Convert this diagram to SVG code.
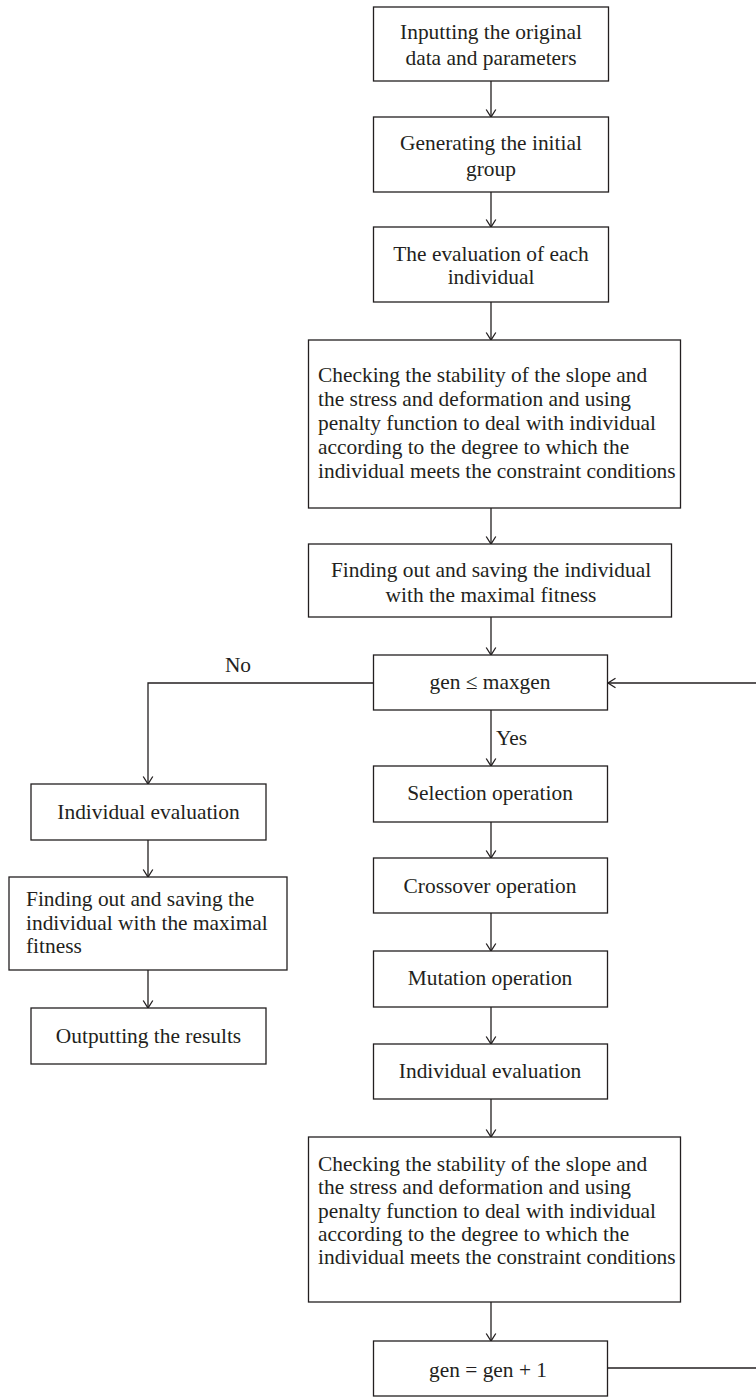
<svg xmlns="http://www.w3.org/2000/svg" width="756" height="1397" viewBox="0 0 756 1397">
<style>
.box{fill:#fff;stroke:#231f20;stroke-width:1.3}
.t{font-family:"Liberation Serif","Times New Roman",serif;font-size:21.4px;fill:#231f20}
.c{text-anchor:middle}
.ln{fill:none;stroke:#231f20;stroke-width:1.3}
</style>
<defs>
<marker id="arr" markerUnits="userSpaceOnUse" markerWidth="12" markerHeight="12" viewBox="-9 -6 11 12" refX="0" refY="0" orient="auto">
<path d="M-7.5,-4.8 L0,0 L-7.5,4.8" fill="none" stroke="#231f20" stroke-width="1.3"/>
</marker>
</defs>
<rect width="756" height="1397" fill="#fff"/>
<g id="connectors">
<line class="ln" x1="491" y1="81" x2="491" y2="117" marker-end="url(#arr)"/>
<line class="ln" x1="491" y1="192" x2="491" y2="227" marker-end="url(#arr)"/>
<line class="ln" x1="491" y1="302" x2="491" y2="340" marker-end="url(#arr)"/>
<line class="ln" x1="491" y1="508" x2="491" y2="544" marker-end="url(#arr)"/>
<line class="ln" x1="491" y1="617" x2="491" y2="655" marker-end="url(#arr)"/>
<line class="ln" x1="491" y1="710" x2="491" y2="766" marker-end="url(#arr)"/>
<line class="ln" x1="491" y1="822" x2="491" y2="858" marker-end="url(#arr)"/>
<line class="ln" x1="491" y1="913" x2="491" y2="951" marker-end="url(#arr)"/>
<line class="ln" x1="491" y1="1007" x2="491" y2="1044" marker-end="url(#arr)"/>
<line class="ln" x1="491" y1="1099" x2="491" y2="1137" marker-end="url(#arr)"/>
<line class="ln" x1="491" y1="1302" x2="491" y2="1341" marker-end="url(#arr)"/>
<polyline class="ln" points="373,683 148,683 148,784" marker-end="url(#arr)"/>
<line class="ln" x1="148" y1="840" x2="148" y2="877" marker-end="url(#arr)"/>
<line class="ln" x1="148" y1="970" x2="148" y2="1008" marker-end="url(#arr)"/>
<line class="ln" x1="756" y1="683" x2="608" y2="683" marker-end="url(#arr)"/>
<line class="ln" x1="607" y1="1368" x2="756" y2="1368"/>
<text class="t c" x="238" y="672">No</text>
<text class="t" x="496" y="745">Yes</text>
</g>
<g id="n1"><rect class="box" x="373.5" y="7" width="235" height="74"/>
<text class="t c" x="491" y="39">Inputting the original</text>
<text class="t c" x="491" y="65">data and parameters</text></g>
<g id="n2"><rect class="box" x="373.5" y="117" width="235" height="75"/>
<text class="t c" x="491" y="150">Generating the initial</text>
<text class="t c" x="491" y="176">group</text></g>
<g id="n3"><rect class="box" x="373.5" y="227" width="235" height="75"/>
<text class="t c" x="491" y="261">The evaluation of each</text>
<text class="t c" x="491" y="284">individual</text></g>
<g id="n4"><rect class="box" x="308.5" y="340" width="372" height="168"/>
<text class="t" x="318" y="382">Checking the stability of the slope and</text>
<text class="t" x="318" y="406">the stress and deformation and using</text>
<text class="t" x="318" y="430">penalty function to deal with individual</text>
<text class="t" x="318" y="454">according to the degree to which the</text>
<text class="t" x="318" y="477.5">individual meets the constraint conditions</text></g>
<g id="n5"><rect class="box" x="308.5" y="544" width="363" height="73"/>
<text class="t c" x="491" y="577">Finding out and saving the individual</text>
<text class="t c" x="491" y="602">with the maximal fitness</text></g>
<g id="n6"><rect class="box" x="373.5" y="655" width="234" height="55"/>
<text class="t c" x="490" y="689">gen ≤ maxgen</text></g>
<g id="n7"><rect class="box" x="373.5" y="766" width="234" height="56"/>
<text class="t c" x="490" y="800">Selection operation</text></g>
<g id="n8"><rect class="box" x="373.5" y="858" width="234" height="55"/>
<text class="t c" x="490" y="893">Crossover operation</text></g>
<g id="n9"><rect class="box" x="373.5" y="951" width="234" height="56"/>
<text class="t c" x="490" y="985">Mutation operation</text></g>
<g id="n10"><rect class="box" x="373.5" y="1044" width="234" height="55"/>
<text class="t c" x="490" y="1078">Individual evaluation</text></g>
<g id="n11"><rect class="box" x="308.5" y="1137" width="372" height="165"/>
<text class="t" x="318" y="1171">Checking the stability of the slope and</text>
<text class="t" x="318" y="1194">the stress and deformation and using</text>
<text class="t" x="318" y="1217.5">penalty function to deal with individual</text>
<text class="t" x="318" y="1241">according to the degree to which the</text>
<text class="t" x="318" y="1264">individual meets the constraint conditions</text></g>
<g id="n12"><rect class="box" x="373.5" y="1341" width="234" height="55"/>
<text class="t c" x="488" y="1377">gen = gen + 1</text></g>
<g id="n13"><rect class="box" x="31" y="784" width="235" height="56"/>
<text class="t c" x="148.5" y="819">Individual evaluation</text></g>
<g id="n14"><rect class="box" x="9" y="877" width="278" height="93"/>
<text class="t" x="26" y="906">Finding out and saving the</text>
<text class="t" x="26" y="930">individual with the maximal</text>
<text class="t" x="26" y="953">fitness</text></g>
<g id="n15"><rect class="box" x="31" y="1008" width="235" height="56"/>
<text class="t c" x="148.5" y="1043">Outputting the results</text></g>
</svg>
